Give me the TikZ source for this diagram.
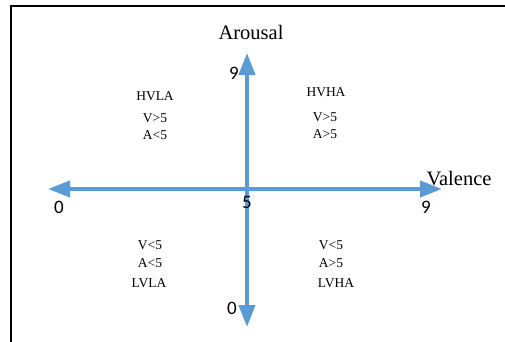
\documentclass[tikz,border=0pt]{standalone}
\usepackage{fontspec}
\setmainfont{Liberation Serif}
\newfontfamily\digitfont{Carlito}
\usetikzlibrary{arrows.meta}
\definecolor{axisblue}{HTML}{5B9BD5}
\begin{document}
\begin{tikzpicture}[x=1pt,y=1pt,
  axis/.style={draw=axisblue,line width=4pt,{Triangle[length=22pt,width=16pt]}-{Triangle[length=22pt,width=16pt]}},
  frameline/.style={draw=black,line width=1.3pt},
  quad/.style={font=\fontsize{13.5}{15}\selectfont,inner sep=0pt},
  axtitle/.style={font=\fontsize{20.5}{23}\selectfont,inner sep=0pt},
  tick/.style={font=\digitfont\fontsize{19}{21}\selectfont,inner sep=0pt}]
\useasboundingbox (0,0) rectangle (505,-341);
% outer frame
\draw[frameline] (11,-345) -- (11,-6) -- (510,-6);
% axis end points
\coordinate (vleft) at (48,-189);
\coordinate (vright) at (442,-189);
\coordinate (atop) at (247,-53);
\coordinate (abottom) at (247,-327);
\draw[axis] (vleft) -- (vright);
\draw[axis] (abottom) -- (atop);
% axis titles
\node[axtitle] (arousal) at (251,-32) {Arousal};
\node[axtitle] (valence) at (459,-179) {Valence};
% scale values
\node[tick] (a9) at (234,-73) {9};
\node[tick] (v0) at (59,-207) {0};
\node[tick] (mid) at (247,-202) {5};
\node[tick] (v9) at (426,-207) {9};
\node[tick] (a0) at (232,-308) {0};
% quadrant labels
\node[quad] (hvla) at (155,-96) {HVLA};
\node[quad] (hvla1) at (155,-118) {V>5};
\node[quad] (hvla2) at (155,-135) {A<5};
\node[quad] (hvha) at (326,-92) {HVHA};
\node[quad] (hvha1) at (325,-117) {V>5};
\node[quad] (hvha2) at (325,-134) {A>5};
\node[quad] (lvla1) at (150,-245) {V<5};
\node[quad] (lvla2) at (150,-263) {A<5};
\node[quad] (lvla) at (149,-283) {LVLA};
\node[quad] (lvha1) at (331,-245) {V<5};
\node[quad] (lvha2) at (331,-263) {A>5};
\node[quad] (lvha) at (336,-283) {LVHA};
\end{tikzpicture}
\end{document}
